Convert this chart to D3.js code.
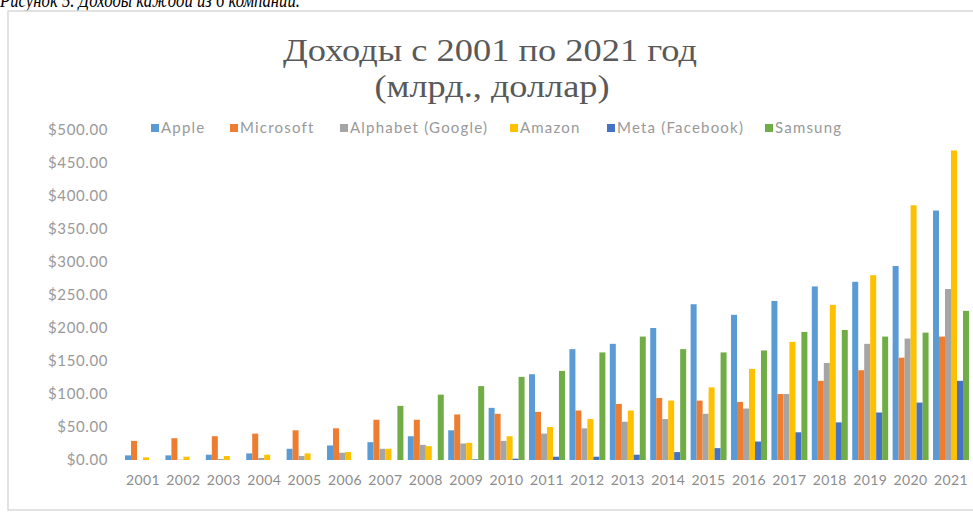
<!DOCTYPE html>
<html>
<head>
<meta charset="utf-8">
<script src="https://cdn.jsdelivr.net/npm/d3@7"></script>
<style>
  html, body { margin: 0; padding: 0; background: #fff; }
  svg { display: block; }
</style>
</head>
<body>
<svg id="chart" width="973" height="517"></svg>
<script>
const years = ["2001","2002","2003","2004","2005","2006","2007","2008","2009","2010","2011","2012","2013","2014","2015","2016","2017","2018","2019","2020","2021"];
const seriesNames = ["Apple","Microsoft","Alphabet (Google)","Amazon","Meta (Facebook)","Samsung"];
const apple     = [7, 7, 8, 10, 17, 22, 27, 36, 45, 79, 130, 168, 176, 200, 236, 220, 241, 263, 270, 294, 378];
const microsoft = [29, 33, 36, 40, 45, 48, 61, 61, 69, 70, 73, 75, 85, 94, 90, 88, 100, 120, 136, 155, 187];
const alphabet  = [0.1, 0.4, 1.5, 3, 6, 11, 17, 23, 25, 29, 40, 48, 58, 62, 70, 78, 100, 147, 176, 184, 259];
const amazon    = [4, 5, 6, 8, 10, 12, 17, 21, 26, 36, 50, 62, 75, 90, 110, 138, 179, 235, 280, 386, 469];
const meta      = [null, null, null, null, null, null, null, null, 1, 2, 5, 5, 8, 12, 18, 28, 42, 57, 72, 87, 120];
const samsung   = [null, null, null, null, null, null, 82, 99, 112, 126, 135, 163, 187, 168, 163, 166, 194, 197, 187, 193, 226];
const yTicks = [0, 50, 100, 150, 200, 250, 300, 350, 400, 450, 500];
const colors = ["#5B9BD5","#ED7D31","#A5A5A5","#FFC000","#4472C4","#70AD47"];

const seriesValues = [apple, microsoft, alphabet, amazon, meta, samsung];
const svg = d3.select("#chart");

// caption (cut at top, as in the reference)
svg.append("text")
  .attr("x", 0).attr("y", 7)
  .attr("font-family", "Liberation Serif")
  .attr("font-style", "italic")
  .attr("font-size", 20)
  .attr("textLength", 300)
  .attr("lengthAdjust", "spacingAndGlyphs")
  .attr("fill", "#000")
  .text("Рисунок 5. Доходы каждой из 6 компаний.");

// frame
svg.append("rect")
  .attr("x", 8).attr("y", 11).attr("width", 990).attr("height", 499)
  .attr("fill", "#fff").attr("stroke", "#d9d9d9").attr("stroke-width", 1.5);

// title
svg.append("text")
  .attr("x", 490).attr("y", 61)
  .attr("text-anchor", "middle")
  .attr("font-family", "Liberation Serif")
  .attr("font-size", 31)
  .attr("textLength", 414)
  .attr("lengthAdjust", "spacingAndGlyphs")
  .attr("fill", "#595959")
  .text("Доходы с 2001 по 2021 год");
svg.append("text")
  .attr("x", 492).attr("y", 97)
  .attr("text-anchor", "middle")
  .attr("font-family", "Liberation Serif")
  .attr("font-size", 31)
  .attr("textLength", 235)
  .attr("lengthAdjust", "spacingAndGlyphs")
  .attr("fill", "#595959")
  .text("(млрд., доллар)");

const x0 = d3.scaleBand().domain(years).range([122.8, 971.2]).paddingInner(0.11).paddingOuter(0.055);
const x1 = d3.scaleBand().domain(seriesNames).range([0, x0.bandwidth()]).padding(0);
const y = d3.scaleLinear().domain([0, 500]).range([460, 130]);

// y axis
const yAxis = d3.axisLeft(y).tickValues(yTicks).tickSize(0).tickPadding(0)
  .tickFormat(d => "$" + d3.format(".2f")(d));
const ya = svg.append("g").attr("transform", "translate(108,0)").call(yAxis);
ya.select(".domain").remove();
ya.selectAll("text")
  .attr("font-family", "Lato").attr("font-size", 15).attr("letter-spacing", 0.6).attr("fill", "#999999");

// x axis
const xAxis = d3.axisBottom(x0).tickSize(0).tickPadding(0);
const xa = svg.append("g").attr("transform", "translate(0,475)").call(xAxis);
xa.select(".domain").remove();
xa.selectAll("text")
  .attr("font-family", "Lato").attr("font-size", 14).attr("letter-spacing", 0.4).attr("fill", "#8c8c8c");

// bars
const groups = svg.append("g").selectAll("g").data(years).join("g")
  .attr("transform", d => `translate(${x0(d)},0)`);
groups.selectAll("rect")
  .data((d, i) => seriesNames.map((s, k) => ({ s, k, v: seriesValues[k][i] })).filter(e => e.v != null))
  .join("rect")
  .attr("x", d => x1(d.s))
  .attr("width", x1.bandwidth())
  .attr("y", d => y(d.v))
  .attr("height", d => y(0) - y(d.v))
  .attr("fill", d => colors[d.k]);

// legend
const legendX = [151, 230, 340, 510, 607, 765];
const lg = svg.append("g").selectAll("g").data(seriesNames).join("g")
  .attr("transform", (d, i) => `translate(${legendX[i]},128)`);
lg.append("rect").attr("x", 0).attr("y", -4).attr("width", 8).attr("height", 8)
  .attr("fill", (d, i) => colors[i]);
lg.append("text").attr("x", 10).attr("y", 5)
  .attr("font-family", "Lato").attr("font-size", 15).attr("letter-spacing", 1.2).attr("fill", "#999999")
  .text(d => d);
</script>
</body>
</html>
